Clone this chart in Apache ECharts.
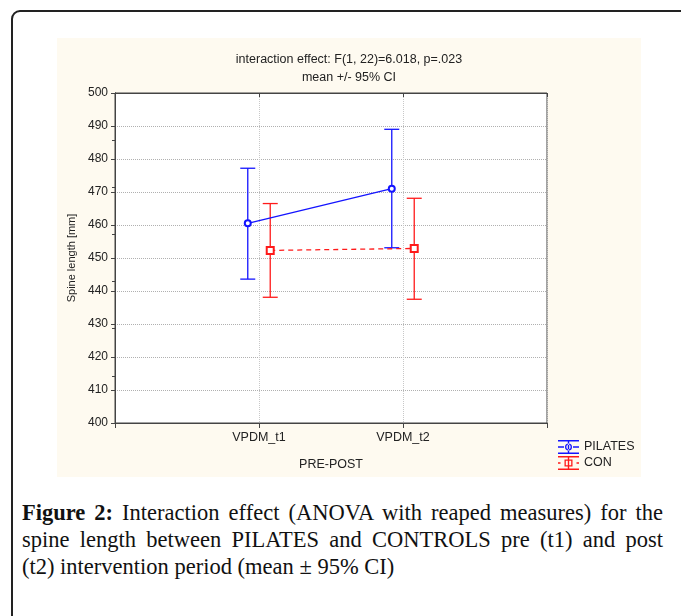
<!DOCTYPE html>
<html>
<head>
<meta charset="utf-8">
<script src="https://cdn.jsdelivr.net/npm/echarts@6/dist/echarts.min.js"></script>
<style>
  body { margin: 0; background: #fff; width: 681px; height: 616px; overflow: hidden; position: relative; }
  #frame { position: absolute; left: 11px; top: 10px; width: 700px; height: 640px; border: 2px solid #222; border-radius: 9px; box-sizing: border-box; }
  #chart { position: absolute; left: 57px; top: 38px; width: 584px; height: 439px; background: #fefaf0; }
  #caption { position: absolute; left: 22px; top: 499px; width: 641px; font-family: "Liberation Serif", serif; font-size: 22.5px; line-height: 27px; color: #111; }
  #caption div.j { text-align: justify; text-align-last: justify; }
</style>
</head>
<body>
<div id="frame"></div>
<div id="chart"></div>
<div id="caption">
  <div class="j"><b>Figure 2:</b> Interaction effect (ANOVA with reaped measures) for the</div>
  <div class="j">spine length between PILATES and CONTROLS pre (t1) and post</div>
  <div>(t2) intervention period (mean ± 95% CI)</div>
</div>
<script>
// data
var categories = ['VPDM_t1', 'VPDM_t2']
var pilatesMean = [460.5, 471.0]
var pilatesLow = [443.6, 453.1]
var pilatesHigh = [477.2, 489.0]
var conMean = [452.3, 452.9]
var conLow = [438.1, 437.5]
var conHigh = [466.5, 468.1]

var blue = '#1414ff'
var red = '#ff1a1a'
var shift = 0.078 // side-by-side offset of the two groups

function pts(vals, off) {
  var out = []
  for (let i = 0; i < vals.length; i++) out.push([i + 1 + off, vals[i]])
  return out
}
function bars(lo, hi, off) {
  var out = []
  for (let i = 0; i < lo.length; i++) out.push([i + 1 + off, lo[i], hi[i]])
  return out
}

function errRender(color) {
  return function (params, api) {
    var x = api.value(0)
    var p1 = api.coord([x, api.value(1)])
    var p2 = api.coord([x, api.value(2)])
    var w = 7.5
    var st = { stroke: color, lineWidth: 1.3 }
    return {
      type: 'group',
      children: [
        { type: 'line', shape: { x1: p1[0], y1: p1[1], x2: p2[0], y2: p2[1] }, style: st },
        { type: 'line', shape: { x1: p1[0] - w, y1: p1[1], x2: p1[0] + w, y2: p1[1] }, style: st },
        { type: 'line', shape: { x1: p2[0] - w, y1: p2[1], x2: p2[0] + w, y2: p2[1] }, style: st }
      ]
    }
  }
}

var iconPil = 'path://M0,0h21v1.4h-21z M0,12.6h21v1.4h-21z M0,6.3h6v1.4h-6z M15,6.3h6v1.4h-6z M9.8,0h1.4v14h-1.4z M10.5,3.5a3.5,3.5 0 1,0 0.01,0z M10.5,4.8a2.2,2.2 0 1,1 -0.01,0z'
var iconCon = 'path://M0,0h21v1.4h-21z M0,12.6h21v1.4h-21z M0,6.3h2.5v1.4h-2.5z M18.5,6.3h2.5v1.4h-2.5z M9.8,0h1.4v14h-1.4z M6.5,3.5h8v7h-8z M7.8,4.8v4.4h5.4v-4.4z'

var chart = echarts.init(document.getElementById('chart'))
var font = 'Liberation Sans, Arial, sans-serif'

var option = {
  backgroundColor: '#fefaf0',
  animation: false,
  textStyle: { fontFamily: font },
  title: {
    text: 'interaction effect: F(1, 22)=6.018, p=.023\nmean +/- 95% CI',
    left: 'center',
    top: 8,
    textStyle: { fontSize: 12.5, fontWeight: 'normal', color: '#222', lineHeight: 18, fontFamily: font }
  },
  legend: {
    orient: 'vertical',
    left: 501,
    top: 402,
    padding: 0,
    itemWidth: 21,
    itemHeight: 14,
    itemGap: 2,
    textStyle: { fontSize: 12.5, color: '#222', fontFamily: font },
    data: [
      { name: 'PILATES', icon: iconPil, itemStyle: { color: blue } },
      { name: 'CON', icon: iconCon, itemStyle: { color: red } }
    ]
  },
  grid: { left: 58, right: 94, top: 55, bottom: 54, show: true, borderColor: '#444', borderWidth: 1, backgroundColor: '#fff' },
  xAxis: [{
    type: 'value',
    min: 0,
    max: 3,
    interval: 1,
    name: 'PRE-POST',
    nameLocation: 'middle',
    nameGap: 35,
    nameTextStyle: { fontSize: 12.5, color: '#222' },
    axisLine: { lineStyle: { color: '#444' } },
    axisTick: { show: true, length: 5, lineStyle: { color: '#444' } },
    axisLabel: {
      margin: 8, fontSize: 12.5, color: '#222',
      formatter: function (v) { return categories[v - 1] || '' }
    },
    splitLine: { show: true, lineStyle: { color: '#c8c8c8', type: 'dotted' } }
  }, {
    type: 'value',
    position: 'top',
    min: 0,
    max: 3,
    interval: 1,
    axisLine: { show: true, lineStyle: { color: '#444' } },
    axisTick: { show: true, inside: true, length: 4, lineStyle: { color: '#444' } },
    axisLabel: { show: false },
    splitLine: { show: false }
  }],
  yAxis: [{
    type: 'value',
    min: 400,
    max: 500,
    interval: 10,
    name: 'Spine length [mm]',
    nameLocation: 'middle',
    nameGap: 37,
    nameTextStyle: { fontSize: 11, color: '#222' },
    axisLine: { show: true, lineStyle: { color: '#444' } },
    axisTick: { show: true, length: 4, lineStyle: { color: '#444' } },
    axisLabel: { margin: 7, fontSize: 12, color: '#222' },
    splitLine: { show: true, lineStyle: { color: '#b0b0b0', type: 'dotted' } }
  }, {
    type: 'value',
    position: 'right',
    min: 0,
    max: 7,
    interval: 1,
    axisLine: { show: true, lineStyle: { color: '#444' } },
    axisTick: { show: true, inside: true, length: 3, lineStyle: { color: '#444' } },
    axisLabel: { show: false },
    splitLine: { show: false }
  }],
  series: [
    {
      name: 'PILATES',
      type: 'line',
      data: pts(pilatesMean, -shift),
      symbol: 'emptyCircle',
      symbolSize: 6,
      itemStyle: { color: blue, borderWidth: 1.2 },
      lineStyle: { color: blue, width: 1.3 },
      z: 5
    },
    {
      name: 'CON',
      type: 'line',
      data: pts(conMean, shift),
      symbol: 'emptyRect',
      symbolSize: 7,
      itemStyle: { color: red, borderWidth: 1.2 },
      lineStyle: { color: red, width: 1.3, type: [5, 4] },
      z: 5
    },
    {
      name: 'PILATES',
      type: 'custom',
      data: bars(pilatesLow, pilatesHigh, -shift),
      renderItem: errRender(blue),
      encode: { x: 0, y: [1, 2] },
      z: 4
    },
    {
      name: 'CON',
      type: 'custom',
      data: bars(conLow, conHigh, shift),
      renderItem: errRender(red),
      encode: { x: 0, y: [1, 2] },
      z: 4
    }
  ]
}

chart.setOption(option)
</script>
</body>
</html>
